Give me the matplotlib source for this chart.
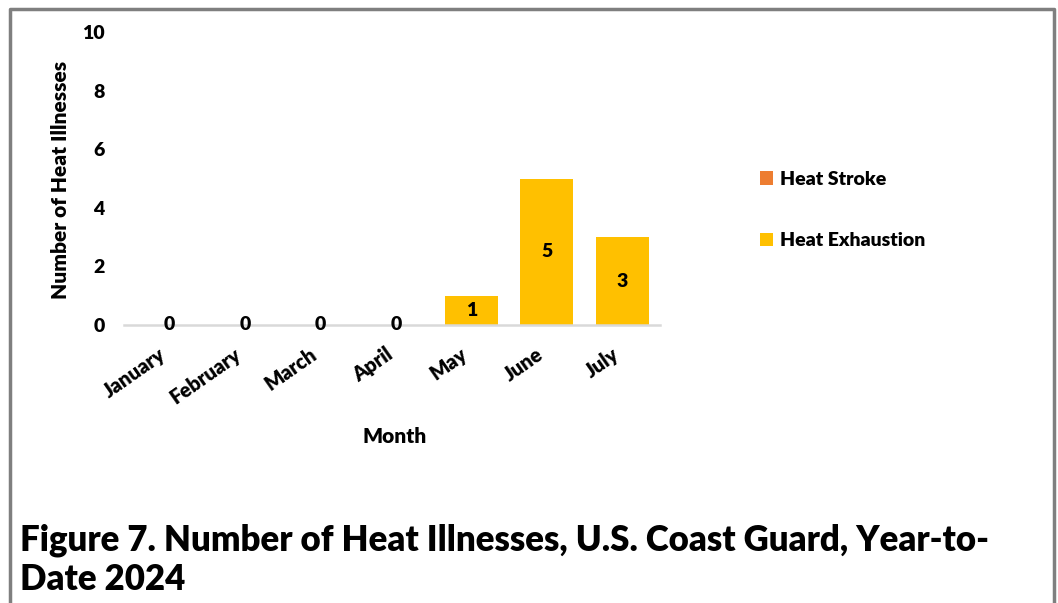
import numpy as np
from matplotlib import pyplot as plt
import matplotlib.transforms as mtransforms

months = ["January", "February", "March", "April", "May", "June", "July"]
heat_stroke = [0, 0, 0, 0, 0, 0, 0]
heat_exhaustion = [0, 0, 0, 0, 1, 5, 3]
yticks = [0, 2, 4, 6, 8, 10]

plt.rcParams['font.family'] = ['Lato', 'DejaVu Sans']
plt.rcParams['font.weight'] = 'heavy'
WT = 'heavy'

W, H = 1058, 603
fig = plt.figure(figsize=(W / 100, H / 100), dpi=100, facecolor="white")

# grey frame round the figure (no bottom edge)
fig.add_artist(plt.Line2D([9.5 / W, 9.5 / W, 1053.5 / W, 1053.5 / W],
                          [0, 1 - 8.5 / H, 1 - 8.5 / H, 0],
                          transform=fig.transFigure, color="#7f7f7f", lw=2.5))

# axes: x from 124 to 660 px, y from 325 (0) to 32 (10)
ax = fig.add_axes([124 / W, 1 - 325 / H, (660 - 124) / W, (325 - 32) / H])
x = np.arange(len(months))
ax.bar(x, heat_stroke, width=0.7, color="#ED7D31", label="Heat Stroke")
ax.bar(x, heat_exhaustion, width=0.7, bottom=heat_stroke, color="#FFC000", label="Heat Exhaustion")

for xi, b, v in zip(x, heat_stroke, heat_exhaustion):
    ax.text(xi, b + v / 2, str(v), ha="center", va="center", fontsize=14, fontweight=WT)

ax.set_xlim(-0.6, 6.5)
ax.set_ylim(0, 10)
ax.set_yticks(yticks)
ax.set_xticks(x)
ax.set_xticklabels(months, rotation=35, ha="right", rotation_mode="anchor", fontsize=14.5, fontweight=WT)
ax.tick_params(axis="y", length=0, pad=14, labelsize=14)
ax.tick_params(axis="x", length=0, pad=14)
# nudge month labels left a little, like the original
shift = mtransforms.ScaledTranslation(-11 / 100, 0, fig.dpi_scale_trans)
for lbl in ax.get_xticklabels():
    lbl.set_transform(lbl.get_transform() + shift)
for s in ["top", "right", "left"]:
    ax.spines[s].set_visible(False)
ax.spines["bottom"].set_color("#d9d9d9")
ax.spines["bottom"].set_linewidth(1.8)
ax.set_ylabel("Number of Heat Illnesses", fontsize=15, fontweight=WT)
ax.set_xlabel("Month", fontsize=15, fontweight=WT)
ax.xaxis.set_label_coords((395 - 124) / (660 - 124), -(427 - 325) / (325 - 32))
ax.yaxis.set_label_coords(-(124 - 70) / (660 - 124), (325 - 180) / (325 - 32))

# legend
leg = fig.legend(loc="upper left", bbox_to_anchor=(742 / W, 1 - 153 / H), frameon=False,
                 fontsize=14, handlelength=0.7, handleheight=0.7, handletextpad=0.35,
                 labelspacing=2.3)

fig.text(20 / W, 1 - 540 / H, "Figure 7. Number of Heat Illnesses, U.S. Coast Guard, Year-to-",
         fontsize=25, fontweight=WT, va="center", ha="left")
fig.text(20 / W, 1 - 580 / H, "Date 2024", fontsize=25, fontweight=WT, va="center", ha="left")

fig.savefig("out.png", dpi=100, facecolor="white")
